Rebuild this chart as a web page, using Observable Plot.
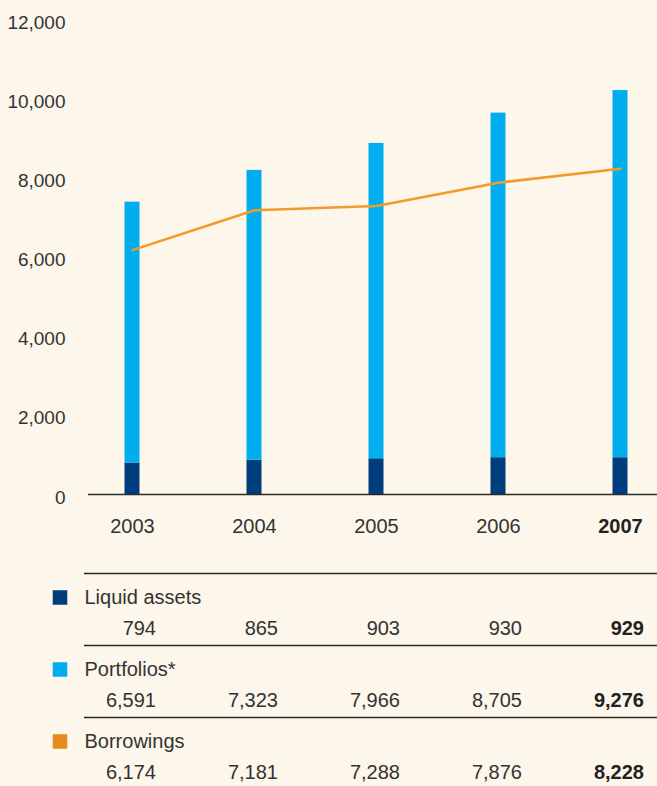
<!DOCTYPE html>
<html>
<head>
<meta charset="utf-8">
<script src="https://cdn.jsdelivr.net/npm/d3@7"></script>
<script src="https://cdn.jsdelivr.net/npm/@observablehq/plot@0.6"></script>
<style>
  html, body { margin: 0; padding: 0; background: #fdf6ea; }
  #chart svg, #table svg { display: block; }
</style>
</head>
<body>
<div id="chart"></div>
<div id="table"></div>
<script>
const years = ["2003", "2004", "2005", "2006", "2007"];
const liquidAssets = [794, 865, 903, 930, 929];
const portfolios = [6591, 7323, 7966, 8705, 9276];
const borrowings = [6174, 7181, 7288, 7876, 8228];
const yTicks = [0, 2000, 4000, 6000, 8000, 10000, 12000];
const seriesNames = ["Liquid assets", "Portfolios*", "Borrowings"];
const seriesColors = ["#003d7c", "#00aeef", "#e58a1f"];
const lineColor = "#f49a2a";
const highlightYear = "2007";

const FONT = "'Liberation Sans', Arial, Helvetica, sans-serif";
const TEXT = "#333333";
const fmt = d3.format(",");

const barData = [];
years.forEach((y, i) => {
  barData.push({year: y, series: seriesNames[0], value: liquidAssets[i]});
  barData.push({year: y, series: seriesNames[1], value: portfolios[i]});
});
const lineData = years.map((y, i) => ({year: y, value: borrowings[i]}));

const xScale = {type: "band", domain: years, range: [69.25, 681.75], padding: 0};
const isHi = d => d === highlightYear;

const chart = Plot.plot({
  width: 657,
  height: 545,
  marginTop: 19,
  marginBottom: 51,
  marginLeft: 88,
  marginRight: 0,
  style: {background: "transparent", fontFamily: FONT, color: TEXT},
  x: {...xScale, axis: null},
  y: {domain: [0, 12000], axis: null},
  color: {domain: seriesNames, range: seriesColors},
  marks: [
    Plot.barY(barData, Plot.stackY({
      x: "year", y: "value", fill: "series", order: seriesNames,
      insetLeft: 53.5, insetRight: 53.5
    })),
    Plot.ruleY([0], {stroke: "#2a2a2a", strokeWidth: 1.5}),
    Plot.lineY(lineData, {x: "year", y: "value", stroke: lineColor, strokeWidth: 2.6}),
    Plot.text(yTicks, {
      y: d => d, text: d => fmt(d), frameAnchor: "left", textAnchor: "end",
      dx: -23, dy: 3, fontSize: 19, fill: TEXT, fontFamily: FONT
    }),
    Plot.text(years.filter(d => !isHi(d)), {
      x: d => d, y: 0, text: d => d, dy: 32, fontSize: 20, fill: TEXT, fontFamily: FONT
    }),
    Plot.text(years.filter(isHi), {
      x: d => d, y: 0, text: d => d, dy: 32, fontSize: 20, fill: "#222", fontFamily: FONT,
      fontWeight: "bold"
    })
  ]
});
document.getElementById("chart").appendChild(chart);

const rows = [liquidAssets, portfolios, borrowings];
const rowIdx = [0, 1, 2];
const cells = [];
rows.forEach((vals, r) => vals.forEach((v, i) => cells.push({row: r, year: years[i], value: v})));

const table = Plot.plot({
  width: 657,
  height: 241,
  marginTop: 0,
  marginBottom: 0,
  marginLeft: 84,
  marginRight: 0,
  style: {background: "transparent", fontFamily: FONT, color: TEXT},
  x: {...xScale, axis: null},
  y: {domain: [0, 3], range: [28, 244], axis: null},
  marks: [
    Plot.ruleY(rowIdx, {y: d => d, stroke: "#2a2a2a", strokeWidth: 1.3}),
    Plot.dot(rowIdx, {
      y: d => d, frameAnchor: "left", dx: -24.5, dy: 24, symbol: "square", r: 8.2,
      fill: d => seriesColors[d], stroke: "none"
    }),
    Plot.text(rowIdx, {
      y: d => d, text: d => seriesNames[d], frameAnchor: "left", textAnchor: "start",
      dy: 24, fontSize: 20, fill: TEXT, fontFamily: FONT
    }),
    Plot.text(cells.filter(d => !isHi(d.year)), {
      x: "year", y: "row", text: d => fmt(d.value), textAnchor: "end", dx: 23.5, dy: 55,
      fontSize: 20, fill: TEXT, fontFamily: FONT
    }),
    Plot.text(cells.filter(d => isHi(d.year)), {
      x: "year", y: "row", text: d => fmt(d.value), textAnchor: "end", dx: 23.5, dy: 55,
      fontSize: 20, fill: "#222", fontFamily: FONT, fontWeight: "bold"
    })
  ]
});
document.getElementById("table").appendChild(table);
</script>
</body>
</html>
